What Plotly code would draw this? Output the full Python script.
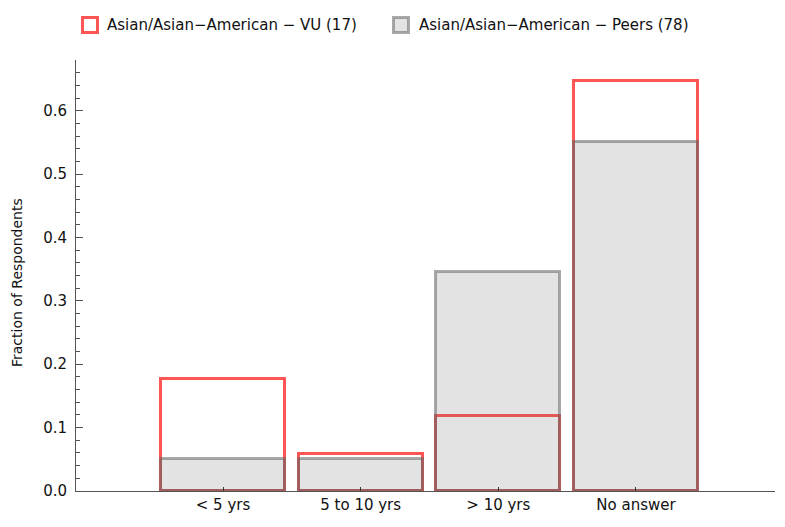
import plotly.graph_objects as go

categories = ["< 5 yrs", "5 to 10 yrs", "> 10 yrs", "No answer"]
series_names = ["Asian/Asian\u2212American \u2212 VU (17)", "Asian/Asian\u2212American \u2212 Peers (78)"]
vu_values = [3/17, 1/17, 2/17, 11/17]
peer_values = [4/78, 4/78, 27/78, 43/78]
y_tick_vals = [0.0, 0.1, 0.2, 0.3, 0.4, 0.5, 0.6]

W, H = 785, 527
L, R, T, B = 76, 10, 60, 36
pw, ph = W - L - R, H - T - B

FONT = "DejaVu Sans"
RED = "rgb(255,85,85)"
GRAY_FILL = "rgba(100,100,100,0.18)"
GRAY_LINE = "rgba(100,100,100,0.55)"

x = list(range(len(categories)))

fig = go.Figure()
fig.add_trace(go.Bar(x=x, y=vu_values, width=0.9, name=series_names[0],
                     marker=dict(color="rgba(0,0,0,0)", line=dict(color=RED, width=3)),
                     cliponaxis=False, showlegend=False))
fig.add_trace(go.Bar(x=x, y=peer_values, width=0.9, name=series_names[1],
                     marker=dict(color=GRAY_FILL, line=dict(color=GRAY_LINE, width=3)),
                     cliponaxis=False, showlegend=False))

def px2x(p):
    return (p - L) / pw

def py2y(p):
    return (H - B - p) / ph

# manual legend
legend_items = [(82.5, 97.5, 105, RED, "white"), (393.5, 408.5, 417, GRAY_LINE, GRAY_FILL)]
shapes = []
annotations = []
for (x0, x1, tx, lc, fc), name in zip(legend_items, series_names):
    shapes.append(dict(type="rect", xref="paper", yref="paper",
                       x0=px2x(x0), x1=px2x(x1), y0=py2y(32.5), y1=py2y(17.5),
                       line=dict(color=lc, width=3), fillcolor=fc, layer="above"))
    annotations.append(dict(xref="paper", yref="paper", x=px2x(tx), y=py2y(25),
                            xanchor="left", yanchor="middle", showarrow=False,
                            text=name, font=dict(family=FONT, size=15, color="#111")))

annotations.append(dict(xref="paper", yref="paper", x=px2x(17), y=py2y(283),
                        xanchor="center", yanchor="middle", showarrow=False,
                        textangle=-90, text="Fraction of Respondents",
                        font=dict(family=FONT, size=14, color="#111")))

fig.update_layout(
    width=W, height=H, autosize=False,
    margin=dict(l=L, r=R, t=T, b=B, pad=0),
    plot_bgcolor="white", paper_bgcolor="white",
    barmode="overlay", bargap=0,
    shapes=shapes, annotations=annotations,
    font=dict(family=FONT, size=15, color="#111"),
)
fig.update_xaxes(range=[-1.068, 4.01], tickvals=x, ticktext=categories,
                 showline=True, linecolor="#555", linewidth=1,
                 ticks="inside", ticklen=4, tickcolor="#333",
                 showgrid=False, zeroline=False,
                 tickfont=dict(family=FONT, size=15, color="#111"))
fig.update_yaxes(range=[0, 0.68], tickvals=y_tick_vals, tickformat=".1f",
                 showline=True, linecolor="#555", linewidth=1,
                 ticks="inside", ticklen=7, tickcolor="#555",
                 minor=dict(dtick=0.02, ticks="inside", ticklen=4, tickcolor="#555"),
                 showgrid=False, zeroline=False, ticklabelstandoff=5,
                 tickfont=dict(family=FONT, size=15, color="#111"))

fig.write_html("out.html", config={"displayModeBar": False},
               post_script="document.body.style.margin='0';")
